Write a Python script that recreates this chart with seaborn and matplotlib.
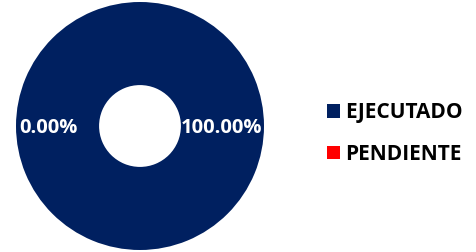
import matplotlib
matplotlib.use('Agg')
import matplotlib.pyplot as plt
import seaborn as sns

# Datos del avance
categorias = ['EJECUTADO', 'PENDIENTE']
valores = [100.0, 0.0]
colores = ['#002060', '#FF0000']
etiquetas = ['100.00%', '0.00%']

sns.set_style('white')
plt.rcParams['font.family'] = ['Open Sans', 'DejaVu Sans']

fig = plt.figure(figsize=(4.77, 2.52), dpi=100)
ax = fig.add_axes([16 / 477, 2 / 252, 248 / 477, 248 / 252])

wedges, _ = ax.pie(valores, colors=colores, startangle=90, counterclock=False,
                   radius=1.0, wedgeprops={'width': 0.67, 'linewidth': 0})
ax.set_aspect('equal')
ax.set_xlim(-1, 1)
ax.set_ylim(-1, 1)
ax.axis('off')

# Etiquetas de porcentaje
ax.text(0.66, -0.02, etiquetas[0], color='white', fontsize=14.5,
        fontweight='bold', ha='center', va='center')
ax.text(-0.735, -0.02, etiquetas[1], color='white', fontsize=14.5,
        fontweight='bold', ha='center', va='center')

leg = fig.legend(wedges, categorias, loc='center left',
                 bbox_to_anchor=(308 / 477, 0.47), frameon=False,
                 handlelength=0.62, handleheight=0.62, handletextpad=0.25,
                 labelspacing=1.0, labelcolor='black',
                 prop={'weight': 'bold', 'size': 15})

fig.savefig('out.png', dpi=100)
